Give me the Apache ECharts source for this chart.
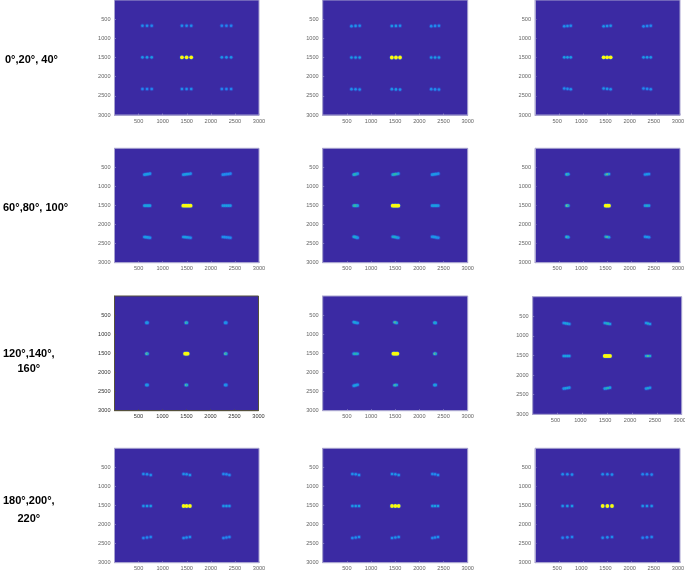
<!DOCTYPE html>
<html>
<head>
<meta charset="utf-8">
<style>html,body{margin:0;padding:0;background:#fff}#c{width:685px;height:570px}</style>
<script src="https://cdn.jsdelivr.net/npm/echarts@6/dist/echarts.min.js"></script>
</head>
<body>
<div id="c"></div>
<script>
var rowLabels = ["0°,20°, 40°", "60°,80°, 100°", "120°,140°,\n160°", "180°,200°,\n220°"];
var tickValues = [500, 1000, 1500, 2000, 2500, 3000];

var p00 = [[580,670,.3],[676,670,.3],[772,670,.28],[1400,670,.3],[1497,670,.3],[1593,670,.3],[2228,670,.26],[2324,670,.26],[2421,670,.26],
[580,1496,.33],[676,1496,.36],[772,1496,.36],[1400,1496,1],[1497,1496,1],[1593,1496,1],[2228,1496,.33],[2324,1496,.33],[2421,1496,.33],
[580,2322,.26],[676,2322,.26],[772,2322,.26],[1400,2322,.3],[1497,2322,.3],[1593,2322,.3],[2228,2322,.26],[2324,2322,.26],[2421,2322,.26]];

var p01 = [[595,682,.3],[680,676,.32],[765,672,.3],[1430,680,.34],[1515,676,.34],[1600,672,.3],[2245,682,.28],[2325,676,.28],[2405,672,.28],
[595,1500,.36],[680,1500,.36],[765,1500,.36],[1430,1500,1],[1515,1500,1],[1600,1500,1],[2245,1500,.34],[2325,1500,.36],[2405,1500,.34],
[595,2326,.3],[680,2330,.3],[765,2336,.3],[1430,2326,.32],[1515,2332,.34],[1600,2338,.3],[2245,2326,.28],[2325,2332,.28],[2405,2336,.28]];

var p02 = [[605,686,.3],[672,678,.33],[740,672,.3],[1420,686,.33],[1492,678,.33],[1565,672,.33],[2245,688,.28],[2320,680,.28],[2395,672,.28],
[605,1496,.36],[672,1496,.38],[740,1496,.36],[1420,1496,1],[1492,1496,1],[1565,1496,1],[2245,1496,.34],[2320,1496,.36],[2395,1496,.34],
[605,2308,.3],[672,2318,.3],[740,2330,.3],[1420,2308,.33],[1492,2318,.33],[1565,2330,.3],[2245,2308,.28],[2320,2318,.28],[2395,2330,.28]];

var p10 = [[620,691,.32],[650,685,.35],[680,678,.36],[710,672,.35],[738,665,.3],[1428,691,.32],[1466,685,.36],[1504,678,.36],[1542,672,.35],[1580,665,.3],[2248,691,.28],[2288,685,.3],[2328,678,.26],[2368,672,.3],[2407,665,.26],
[620,1504,.36],[650,1504,.38],[680,1504,.38],[710,1504,.38],[738,1504,.36],[1428,1504,1],[1466,1504,1],[1504,1504,1],[1542,1504,1],[1580,1504,1],[2248,1504,.34],[2288,1504,.36],[2328,1504,.36],[2368,1504,.36],[2407,1504,.34],
[620,2326,.32],[650,2330,.35],[680,2335,.36],[710,2340,.34],[738,2344,.3],[1428,2326,.34],[1466,2330,.36],[1504,2335,.36],[1542,2340,.34],[1580,2344,.3],[2248,2326,.3],[2288,2330,.3],[2328,2335,.28],[2368,2340,.3],[2407,2344,.28]];

var p11 = [[641,691,.38],[662,685,.45],[683,678,.48],[704,672,.42],[724,665,.32],[1448,691,.38],[1478,685,.45],[1507,678,.5],[1537,672,.45],[1566,665,.35],[2262,691,.3],[2295,685,.34],[2328,678,.34],[2360,672,.32],[2393,665,.28],
[641,1504,.4],[662,1504,.5],[683,1504,.52],[704,1504,.45],[724,1504,.36],[1448,1504,1],[1478,1504,1],[1507,1504,1],[1537,1504,1],[1566,1504,1],[2262,1504,.33],[2295,1504,.37],[2328,1504,.38],[2360,1504,.37],[2393,1504,.32],
[641,2318,.36],[662,2324,.42],[683,2330,.42],[704,2338,.38],[724,2344,.3],[1448,2318,.38],[1478,2324,.42],[1507,2330,.42],[1537,2338,.38],[1566,2344,.32],[2262,2318,.3],[2295,2324,.33],[2328,2330,.33],[2360,2338,.32],[2393,2344,.28]];

var p12 = [[648,684,.36],[669,682,.55],[690,678,.38],[1462,686,.42],[1497,682,.58],[1531,676,.38],[2276,688,.3],[2318,682,.36],[2359,676,.28],
[648,1504,.42],[669,1504,.62],[690,1504,.42],[1462,1504,1],[1497,1504,1],[1531,1504,1],[2276,1504,.34],[2318,1504,.44],[2359,1504,.34],
[648,2324,.36],[669,2326,.55],[690,2330,.36],[1462,2320,.42],[1497,2326,.55],[1531,2332,.38],[2276,2320,.3],[2318,2326,.36],[2359,2334,.28]];

var p20 = [[664,698,.3],[676,698,.45],[688,698,.3],[1485,698,.4],[1497,698,.58],[1509,698,.4],[2305,698,.28],[2317,698,.42],[2329,698,.28],
[664,1509,.42],[676,1509,.68],[688,1509,.42],[1470,1509,1],[1497,1509,1],[1524,1509,1],[2305,1509,.42],[2317,1509,.66],[2329,1509,.42],
[664,2328,.3],[676,2328,.45],[688,2328,.3],[1485,2328,.42],[1497,2328,.6],[1509,2328,.42],[2305,2328,.28],[2317,2328,.42],[2329,2328,.28]];

var p21 = [[641,682,.32],[665,690,.4],[695,698,.38],[724,706,.3],[1483,688,.42],[1507,694,.58],[1531,704,.38],[2310,700,.35],[2324,702,.5],[2338,704,.35],
[641,1509,.36],[665,1509,.46],[695,1509,.5],[724,1509,.38],[1462,1509,1],[1490,1509,1],[1518,1509,1],[1545,1509,1],[2310,1509,.42],[2324,1509,.65],[2338,1509,.42],
[641,2346,.3],[665,2340,.38],[695,2330,.38],[724,2320,.32],[1483,2336,.42],[1507,2330,.55],[1531,2326,.38],[2310,2330,.33],[2324,2328,.46],[2338,2326,.33]];

var p22 = [[624,671,.3],[660,680,.38],[700,688,.4],[738,697,.3],[1450,671,.34],[1485,680,.42],[1520,688,.46],[1557,697,.34],[2282,671,.3],[2320,682,.42],[2362,697,.32],
[624,1513,.36],[660,1513,.38],[700,1513,.38],[738,1513,.36],[1450,1513,1],[1485,1513,1],[1520,1513,1],[1557,1513,1],[2282,1513,.36],[2320,1513,.55],[2362,1513,.42],
[624,2345,.3],[660,2338,.36],[700,2330,.4],[738,2320,.32],[1450,2345,.34],[1485,2338,.42],[1520,2330,.48],[1557,2320,.36],[2282,2345,.3],[2320,2334,.42],[2362,2322,.32]];

var p30 = [[600,674,.3],[676,682,.3],[752,700,.3],[1434,674,.3],[1497,682,.32],[1566,700,.32],[2262,674,.27],[2324,682,.27],[2386,700,.27],
[600,1513,.33],[676,1513,.36],[752,1513,.36],[1434,1513,1],[1497,1513,1],[1566,1513,1],[2262,1513,.33],[2324,1513,.36],[2386,1513,.33],
[600,2352,.28],[676,2340,.28],[752,2326,.28],[1434,2352,.3],[1497,2340,.3],[1566,2326,.3],[2262,2352,.27],[2324,2340,.27],[2386,2326,.27]];

var p31 = [[614,674,.3],[683,682,.3],[752,700,.3],[1434,674,.32],[1503,682,.32],[1572,700,.32],[2269,674,.28],[2324,682,.28],[2386,700,.28],
[614,1513,.34],[683,1513,.36],[752,1513,.36],[1434,1513,1],[1503,1513,1],[1572,1513,1],[2269,1513,.36],[2324,1513,.38],[2386,1513,.36],
[614,2352,.28],[683,2340,.3],[752,2326,.3],[1434,2352,.3],[1503,2340,.32],[1572,2326,.32],[2269,2352,.28],[2324,2340,.3],[2386,2326,.3]];

var p32 = [[572,682,.3],[669,682,.3],[766,690,.3],[1400,682,.3],[1497,682,.3],[1593,690,.3],[2228,682,.27],[2317,682,.27],[2414,690,.27],
[572,1513,.33],[669,1513,.36],[766,1513,.36],[1400,1513,1],[1497,1513,1],[1593,1513,1],[2228,1513,.33],[2317,1513,.33],[2414,1513,.33],
[572,2344,.26],[669,2335,.28],[766,2326,.28],[1400,2344,.3],[1497,2335,.3],[1593,2326,.3],[2228,2344,.26],[2317,2335,.26],[2414,2326,.28]];

var panels = [p00, p01, p02, p10, p11, p12, p20, p21, p22, p30, p31, p32];

// Layout of the 12 images, in pixels
var boxes = [
 [114.5,0,144.5,115],[322.7,0,145,115],[535,0,145,115],
 [114.5,148.3,144.5,114.4],[322.7,148.3,145,114.4],[535,148.3,145,114.4],
 [114.5,296,144,114.7],[322.7,296,145,114.7],[532.7,296.7,149,117.6],
 [114.5,448.3,144.5,114.4],[322.7,448.3,145,114.4],[535,448.3,145,114.4]
];
var labelPos = [[5,52,15],[3,200,15],[3,346,15],[3,492,18]];
var parula = ['#352a87','#1464e8','#2383f0','#1aa0e0','#2eb7a4','#87bf77','#d1bb59','#fec832','#f9fb0e'];

function plain(v) { return v === 0 ? '' : String(v); }

var grids = [], xAxes = [], yAxes = [], series = [];
panels.forEach(function (data, i) {
  var b = boxes[i], odd = i === 6, lastCol = i % 3 === 2;
  var frame = odd ? '#55513c' : '#a7a2cf';
  var tick = {show: true, inside: true, length: 1.5, lineStyle: {color: frame, width: .6}};
  var labelStyle = {fontSize: 5.6, color: odd ? '#333' : '#666', fontFamily: 'Liberation Sans', formatter: plain, hideOverlap: false, showMinLabel: false};
  grids.push({left: b[0], top: b[1], width: b[2], height: b[3], show: true,
    backgroundColor: '#3b2aa3', borderColor: frame, borderWidth: 1, outerBoundsMode: 'none'});
  xAxes.push({gridIndex: i, type: 'value', min: 0, max: 3000, interval: 500, position: 'bottom',
    axisLine: {show: true, onZero: false, lineStyle: {color: frame}}, axisTick: tick,
    splitLine: {show: false},
    axisLabel: Object.assign({margin: 3, padding: lastCol ? [0, 4, 0, 0] : 0}, labelStyle)});
  yAxes.push({gridIndex: i, type: 'value', min: 0, max: 3000, interval: 500, inverse: true, position: 'left',
    axisLine: {show: true, onZero: false, lineStyle: {color: frame}}, axisTick: tick,
    splitLine: {show: false},
    axisLabel: Object.assign({margin: 4}, labelStyle)});
  series.push({type: 'scatter', xAxisIndex: i, yAxisIndex: i, data: data, silent: true, z: 2, animation: false,
    symbolSize: function (v) { return v[2] > .9 ? 5.2 : 4.4; },
    itemStyle: {color: '#2a5fdc', opacity: .45}});
  series.push({type: 'scatter', xAxisIndex: i, yAxisIndex: i, data: data, silent: true, z: 3, animation: false,
    symbolSize: function (v) { return v[2] > .9 ? 3.8 : 2.6; },
    itemStyle: {opacity: 1}});
});

var coreSeries = series.map(function (s, i) { return i; }).filter(function (i) { return i % 2 === 1; });

var chart = echarts.init(document.getElementById('c'), null, {renderer: 'canvas'});
chart.setOption({
  backgroundColor: '#fff',
  animation: false,
  grid: grids, xAxis: xAxes, yAxis: yAxes, series: series,
  visualMap: [{type: 'continuous', show: false, min: 0, max: 1, dimension: 2, seriesIndex: coreSeries, inRange: {color: parula}}],
  graphic: rowLabels.map(function (t, i) {
    return {type: 'text', left: labelPos[i][0], top: labelPos[i][1], silent: true,
      style: {text: t, fill: '#000', font: 'bold 11px "Liberation Sans"', textAlign: 'center', lineHeight: labelPos[i][2]}};
  })
});
</script>
</body>
</html>
